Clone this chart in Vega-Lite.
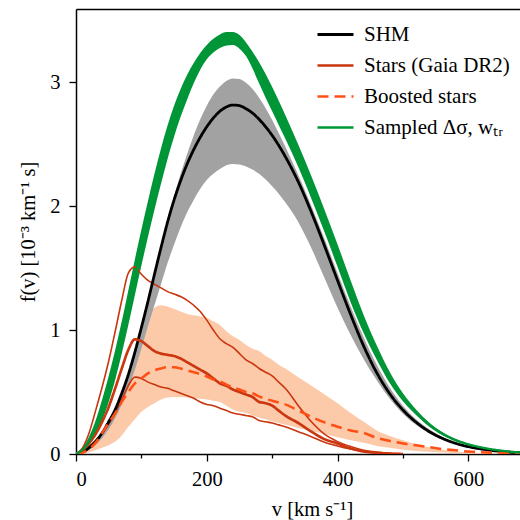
{
  "$schema": "https://vega.github.io/schema/vega-lite/v6.json",
  "width": 444,
  "height": 445,
  "autosize": {"type": "none"},
  "padding": {"left": 76, "top": 9, "right": 0, "bottom": 66},
  "config": {
    "view": {"stroke": null},
    "font": "Liberation Serif",
    "axis": {
      "labelFont": "Liberation Serif", "labelFontSize": 20.5, "labelColor": "black",
      "titleFont": "Liberation Serif", "titleFontSize": 20.5, "titleFontWeight": "normal", "titleColor": "black",
      "domainColor": "black", "domainWidth": 1.5, "tickColor": "black", "tickWidth": 1.3, "tickSize": 7, "grid": false
    },
    "legend": {
      "orient": "none", "legendX": 240, "legendY": 10, "symbolType": "stroke", "symbolSize": 1296,
      "symbolStrokeWidth": 3, "labelFont": "Liberation Serif", "labelFontSize": 21, "labelColor": "black",
      "labelOffset": 9, "clipHeight": 31, "rowPadding": 0, "padding": 0, "labelLimit": 300
    }
  },
  "datasets": {
    "d": [
      {"v": 0, "shm": 0, "shm_lo": 0, "shm_hi": 0, "g_lo": 0, "g_hi": 0, "sampled": 0, "p_lo": 0, "p_hi": 0, "boosted": 0, "stars": 0, "stars_hi": 0, "stars_lo": 0},
      {"v": 10, "shm": 0.015, "shm_lo": 0.01, "shm_hi": 0.015, "g_lo": 0.02, "g_hi": 0.05, "sampled": 0.035, "p_lo": 0.005, "p_hi": 0.02, "boosted": 0.01, "stars": 0.03, "stars_hi": 0.05, "stars_lo": 0.02},
      {"v": 20, "shm": 0.05, "shm_lo": 0.035, "shm_hi": 0.05, "g_lo": 0.07, "g_hi": 0.14, "sampled": 0.105, "p_lo": 0.015, "p_hi": 0.06, "boosted": 0.04, "stars": 0.09, "stars_hi": 0.17, "stars_lo": 0.06},
      {"v": 30, "shm": 0.1, "shm_lo": 0.075, "shm_hi": 0.1, "g_lo": 0.15, "g_hi": 0.27, "sampled": 0.21, "p_lo": 0.03, "p_hi": 0.11, "boosted": 0.09, "stars": 0.16, "stars_hi": 0.35, "stars_lo": 0.11},
      {"v": 40, "shm": 0.17, "shm_lo": 0.13, "shm_hi": 0.17, "g_lo": 0.27, "g_hi": 0.44, "sampled": 0.355, "p_lo": 0.05, "p_hi": 0.17, "boosted": 0.17, "stars": 0.26, "stars_hi": 0.54, "stars_lo": 0.17},
      {"v": 50, "shm": 0.26, "shm_lo": 0.2, "shm_hi": 0.26, "g_lo": 0.42, "g_hi": 0.63, "sampled": 0.525, "p_lo": 0.07, "p_hi": 0.25, "boosted": 0.25, "stars": 0.38, "stars_hi": 0.75, "stars_lo": 0.24},
      {"v": 60, "shm": 0.36, "shm_lo": 0.29, "shm_hi": 0.36, "g_lo": 0.6, "g_hi": 0.84, "sampled": 0.72, "p_lo": 0.1, "p_hi": 0.36, "boosted": 0.33, "stars": 0.53, "stars_hi": 0.99, "stars_lo": 0.33},
      {"v": 70, "shm": 0.49, "shm_lo": 0.4, "shm_hi": 0.49, "g_lo": 0.81, "g_hi": 1.07, "sampled": 0.94, "p_lo": 0.15, "p_hi": 0.48, "boosted": 0.42, "stars": 0.69, "stars_hi": 1.24, "stars_lo": 0.44},
      {"v": 80, "shm": 0.64, "shm_lo": 0.53, "shm_hi": 0.64, "g_lo": 1.04, "g_hi": 1.32, "sampled": 1.18, "p_lo": 0.22, "p_hi": 0.61, "boosted": 0.5, "stars": 0.84, "stars_hi": 1.46, "stars_lo": 0.55},
      {"v": 90, "shm": 0.82, "shm_lo": 0.68, "shm_hi": 0.82, "g_lo": 1.28, "g_hi": 1.57, "sampled": 1.425, "p_lo": 0.28, "p_hi": 0.75, "boosted": 0.57, "stars": 0.925, "stars_hi": 1.51, "stars_lo": 0.62},
      {"v": 100, "shm": 1.02, "shm_lo": 0.85, "shm_hi": 1.03, "g_lo": 1.52, "g_hi": 1.81, "sampled": 1.665, "p_lo": 0.34, "p_hi": 0.95, "boosted": 0.61, "stars": 0.91, "stars_hi": 1.45, "stars_lo": 0.61},
      {"v": 110, "shm": 1.23, "shm_lo": 1.03, "shm_hi": 1.24, "g_lo": 1.75, "g_hi": 2.04, "sampled": 1.895, "p_lo": 0.38, "p_hi": 1.1, "boosted": 0.65, "stars": 0.87, "stars_hi": 1.4, "stars_lo": 0.58},
      {"v": 120, "shm": 1.45, "shm_lo": 1.2, "shm_hi": 1.46, "g_lo": 1.97, "g_hi": 2.26, "sampled": 2.115, "p_lo": 0.41, "p_hi": 1.18, "boosted": 0.675, "stars": 0.83, "stars_hi": 1.37, "stars_lo": 0.56},
      {"v": 130, "shm": 1.665, "shm_lo": 1.37, "shm_hi": 1.68, "g_lo": 2.18, "g_hi": 2.465, "sampled": 2.32, "p_lo": 0.44, "p_hi": 1.2, "boosted": 0.69, "stars": 0.81, "stars_hi": 1.34, "stars_lo": 0.54},
      {"v": 140, "shm": 1.87, "shm_lo": 1.54, "shm_hi": 1.89, "g_lo": 2.38, "g_hi": 2.65, "sampled": 2.515, "p_lo": 0.455, "p_hi": 1.19, "boosted": 0.7, "stars": 0.8, "stars_hi": 1.31, "stars_lo": 0.53},
      {"v": 150, "shm": 2.05, "shm_lo": 1.69, "shm_hi": 2.08, "g_lo": 2.56, "g_hi": 2.81, "sampled": 2.685, "p_lo": 0.46, "p_hi": 1.17, "boosted": 0.7, "stars": 0.79, "stars_hi": 1.29, "stars_lo": 0.51},
      {"v": 160, "shm": 2.205, "shm_lo": 1.83, "shm_hi": 2.26, "g_lo": 2.72, "g_hi": 2.945, "sampled": 2.83, "p_lo": 0.46, "p_hi": 1.15, "boosted": 0.69, "stars": 0.77, "stars_hi": 1.27, "stars_lo": 0.49},
      {"v": 170, "shm": 2.34, "shm_lo": 1.95, "shm_hi": 2.42, "g_lo": 2.86, "g_hi": 3.06, "sampled": 2.96, "p_lo": 0.455, "p_hi": 1.13, "boosted": 0.675, "stars": 0.74, "stars_hi": 1.24, "stars_lo": 0.47},
      {"v": 180, "shm": 2.455, "shm_lo": 2.05, "shm_hi": 2.57, "g_lo": 2.99, "g_hi": 3.155, "sampled": 3.07, "p_lo": 0.45, "p_hi": 1.12, "boosted": 0.66, "stars": 0.71, "stars_hi": 1.2, "stars_lo": 0.45},
      {"v": 190, "shm": 2.555, "shm_lo": 2.14, "shm_hi": 2.7, "g_lo": 3.1, "g_hi": 3.235, "sampled": 3.165, "p_lo": 0.445, "p_hi": 1.11, "boosted": 0.645, "stars": 0.68, "stars_hi": 1.15, "stars_lo": 0.42},
      {"v": 200, "shm": 2.64, "shm_lo": 2.21, "shm_hi": 2.81, "g_lo": 3.185, "g_hi": 3.3, "sampled": 3.24, "p_lo": 0.44, "p_hi": 1.1, "boosted": 0.625, "stars": 0.65, "stars_hi": 1.08, "stars_lo": 0.4},
      {"v": 210, "shm": 2.71, "shm_lo": 2.26, "shm_hi": 2.9, "g_lo": 3.24, "g_hi": 3.35, "sampled": 3.295, "p_lo": 0.43, "p_hi": 1.07, "boosted": 0.6, "stars": 0.61, "stars_hi": 1.0, "stars_lo": 0.39},
      {"v": 220, "shm": 2.765, "shm_lo": 2.3, "shm_hi": 2.965, "g_lo": 3.275, "g_hi": 3.385, "sampled": 3.33, "p_lo": 0.42, "p_hi": 1.04, "boosted": 0.585, "stars": 0.57, "stars_hi": 0.93, "stars_lo": 0.37},
      {"v": 230, "shm": 2.8, "shm_lo": 2.33, "shm_hi": 3.01, "g_lo": 3.295, "g_hi": 3.405, "sampled": 3.35, "p_lo": 0.39, "p_hi": 0.99, "boosted": 0.56, "stars": 0.55, "stars_hi": 0.89, "stars_lo": 0.35},
      {"v": 240, "shm": 2.815, "shm_lo": 2.34, "shm_hi": 3.03, "g_lo": 3.3, "g_hi": 3.405, "sampled": 3.352, "p_lo": 0.36, "p_hi": 0.95, "boosted": 0.535, "stars": 0.52, "stars_hi": 0.86, "stars_lo": 0.33},
      {"v": 250, "shm": 2.81, "shm_lo": 2.335, "shm_hi": 3.025, "g_lo": 3.27, "g_hi": 3.38, "sampled": 3.325, "p_lo": 0.34, "p_hi": 0.92, "boosted": 0.52, "stars": 0.5, "stars_hi": 0.81, "stars_lo": 0.32},
      {"v": 260, "shm": 2.785, "shm_lo": 2.32, "shm_hi": 2.995, "g_lo": 3.21, "g_hi": 3.32, "sampled": 3.265, "p_lo": 0.33, "p_hi": 0.88, "boosted": 0.5, "stars": 0.48, "stars_hi": 0.76, "stars_lo": 0.31},
      {"v": 270, "shm": 2.75, "shm_lo": 2.295, "shm_hi": 2.945, "g_lo": 3.11, "g_hi": 3.245, "sampled": 3.178, "p_lo": 0.31, "p_hi": 0.85, "boosted": 0.49, "stars": 0.46, "stars_hi": 0.73, "stars_lo": 0.3},
      {"v": 280, "shm": 2.7, "shm_lo": 2.26, "shm_hi": 2.875, "g_lo": 2.99, "g_hi": 3.16, "sampled": 3.075, "p_lo": 0.295, "p_hi": 0.83, "boosted": 0.465, "stars": 0.42, "stars_hi": 0.69, "stars_lo": 0.27},
      {"v": 290, "shm": 2.64, "shm_lo": 2.215, "shm_hi": 2.79, "g_lo": 2.875, "g_hi": 3.065, "sampled": 2.97, "p_lo": 0.28, "p_hi": 0.79, "boosted": 0.445, "stars": 0.41, "stars_hi": 0.66, "stars_lo": 0.26},
      {"v": 300, "shm": 2.57, "shm_lo": 2.16, "shm_hi": 2.695, "g_lo": 2.765, "g_hi": 2.96, "sampled": 2.862, "p_lo": 0.265, "p_hi": 0.76, "boosted": 0.43, "stars": 0.39, "stars_hi": 0.63, "stars_lo": 0.25},
      {"v": 310, "shm": 2.49, "shm_lo": 2.1, "shm_hi": 2.59, "g_lo": 2.655, "g_hi": 2.85, "sampled": 2.752, "p_lo": 0.25, "p_hi": 0.72, "boosted": 0.415, "stars": 0.35, "stars_hi": 0.58, "stars_lo": 0.235},
      {"v": 320, "shm": 2.4, "shm_lo": 2.03, "shm_hi": 2.48, "g_lo": 2.545, "g_hi": 2.735, "sampled": 2.64, "p_lo": 0.235, "p_hi": 0.69, "boosted": 0.4, "stars": 0.31, "stars_hi": 0.53, "stars_lo": 0.22},
      {"v": 340, "shm": 2.195, "shm_lo": 1.87, "shm_hi": 2.25, "g_lo": 2.315, "g_hi": 2.495, "sampled": 2.405, "p_lo": 0.21, "p_hi": 0.62, "boosted": 0.35, "stars": 0.25, "stars_hi": 0.39, "stars_lo": 0.18},
      {"v": 360, "shm": 1.95, "shm_lo": 1.66, "shm_hi": 2.0, "g_lo": 2.06, "g_hi": 2.24, "sampled": 2.15, "p_lo": 0.185, "p_hi": 0.55, "boosted": 0.3, "stars": 0.18, "stars_hi": 0.26, "stars_lo": 0.14},
      {"v": 380, "shm": 1.68, "shm_lo": 1.42, "shm_hi": 1.735, "g_lo": 1.79, "g_hi": 1.97, "sampled": 1.88, "p_lo": 0.16, "p_hi": 0.48, "boosted": 0.255, "stars": 0.12, "stars_hi": 0.16, "stars_lo": 0.095},
      {"v": 400, "shm": 1.4, "shm_lo": 1.18, "shm_hi": 1.46, "g_lo": 1.51, "g_hi": 1.69, "sampled": 1.6, "p_lo": 0.135, "p_hi": 0.41, "boosted": 0.22, "stars": 0.085, "stars_hi": 0.1, "stars_lo": 0.065},
      {"v": 420, "shm": 1.125, "shm_lo": 0.96, "shm_hi": 1.19, "g_lo": 1.225, "g_hi": 1.4, "sampled": 1.312, "p_lo": 0.11, "p_hi": 0.33, "boosted": 0.19, "stars": 0.045, "stars_hi": 0.06, "stars_lo": 0.04},
      {"v": 440, "shm": 0.87, "shm_lo": 0.765, "shm_hi": 0.94, "g_lo": 0.975, "g_hi": 1.12, "sampled": 1.048, "p_lo": 0.09, "p_hi": 0.26, "boosted": 0.17, "stars": 0.02, "stars_hi": 0.03, "stars_lo": 0.02},
      {"v": 460, "shm": 0.655, "shm_lo": 0.595, "shm_hi": 0.72, "g_lo": 0.76, "g_hi": 0.875, "sampled": 0.818, "p_lo": 0.065, "p_hi": 0.19, "boosted": 0.13, "stars": 0.01, "stars_hi": 0.015, "stars_lo": 0.008},
      {"v": 480, "shm": 0.485, "shm_lo": 0.445, "shm_hi": 0.535, "g_lo": 0.57, "g_hi": 0.66, "sampled": 0.615, "p_lo": 0.05, "p_hi": 0.145, "boosted": 0.105, "stars": 0.003, "stars_hi": 0.005, "stars_lo": 0.002},
      {"v": 500, "shm": 0.355, "shm_lo": 0.325, "shm_hi": 0.39, "g_lo": 0.425, "g_hi": 0.49, "sampled": 0.458, "p_lo": 0.035, "p_hi": 0.11, "boosted": 0.085, "stars": 0, "stars_hi": 0, "stars_lo": 0},
      {"v": 520, "shm": 0.257, "shm_lo": 0.235, "shm_hi": 0.28, "g_lo": 0.315, "g_hi": 0.36, "sampled": 0.338, "p_lo": 0.025, "p_hi": 0.08, "boosted": 0.07},
      {"v": 540, "shm": 0.182, "shm_lo": 0.165, "shm_hi": 0.2, "g_lo": 0.222, "g_hi": 0.255, "sampled": 0.238, "p_lo": 0.018, "p_hi": 0.055, "boosted": 0.055},
      {"v": 560, "shm": 0.127, "shm_lo": 0.115, "shm_hi": 0.14, "g_lo": 0.153, "g_hi": 0.178, "sampled": 0.165, "p_lo": 0.012, "p_hi": 0.035, "boosted": 0.04},
      {"v": 580, "shm": 0.087, "shm_lo": 0.078, "shm_hi": 0.097, "g_lo": 0.104, "g_hi": 0.123, "sampled": 0.113, "p_lo": 0.008, "p_hi": 0.02, "boosted": 0.03},
      {"v": 600, "shm": 0.059, "shm_lo": 0.052, "shm_hi": 0.066, "g_lo": 0.071, "g_hi": 0.085, "sampled": 0.078, "p_lo": 0.005, "p_hi": 0.012, "boosted": 0.02},
      {"v": 620, "shm": 0.04, "shm_lo": 0.035, "shm_hi": 0.045, "g_lo": 0.048, "g_hi": 0.058, "sampled": 0.053, "p_lo": 0.003, "p_hi": 0.007, "boosted": 0.015},
      {"v": 640, "shm": 0.026, "shm_lo": 0.023, "shm_hi": 0.029, "g_lo": 0.031, "g_hi": 0.038, "sampled": 0.034, "p_lo": 0.002, "p_hi": 0.004, "boosted": 0.01},
      {"v": 660, "shm": 0.016, "shm_lo": 0.014, "shm_hi": 0.018, "g_lo": 0.019, "g_hi": 0.024, "sampled": 0.021, "p_lo": 0.001, "p_hi": 0.002, "boosted": 0.005},
      {"v": 680, "shm": 0.01, "shm_lo": 0.008, "shm_hi": 0.011, "g_lo": 0.011, "g_hi": 0.014, "sampled": 0.012, "p_lo": 0, "p_hi": 0.001, "boosted": 0.003}
    ]
  },
  "data": {"name": "d"},
  "layer": [
    {
      "mark": {"type": "area", "color": "#fdcaa9", "interpolate": "monotone", "clip": true},
      "encoding": {
        "x": {"field": "v", "type": "quantitative", "scale": {"domain": [0, 679], "nice": false, "zero": false},
              "axis": {"orient": "top", "ticks": false, "labels": false, "title": null, "domain": true}},
        "y": {"field": "p_lo", "type": "quantitative", "scale": {"domain": [0, 3.59], "nice": false},
              "axis": {"values": [0, 1, 2, 3], "format": "d", "title": "f(v)  [10⁻³ km⁻¹ s]", "labelPadding": 9, "titlePadding": 11}},
        "y2": {"field": "p_hi"}
      }
    },
    {
      "mark": {"type": "area", "color": "#a2a2a2", "interpolate": "monotone", "clip": true},
      "encoding": {
        "x": {"field": "v", "type": "quantitative", "axis": null},
        "y": {"field": "shm_lo", "type": "quantitative"},
        "y2": {"field": "shm_hi"}
      }
    },
    {
      "mark": {"type": "area", "color": "#009637", "interpolate": "monotone", "clip": true},
      "encoding": {
        "x": {"field": "v", "type": "quantitative", "axis": null},
        "y": {"field": "g_lo", "type": "quantitative"},
        "y2": {"field": "g_hi"}
      }
    },
    {
      "transform": [{"fold": ["stars_hi", "stars_lo"], "as": ["k", "f"]}],
      "mark": {"type": "line", "color": "#c9360f", "strokeWidth": 1.6, "interpolate": "monotone", "clip": true},
      "encoding": {
        "x": {"field": "v", "type": "quantitative",
              "axis": {"orient": "bottom", "values": [100, 300, 500], "labels": false, "domain": false, "tickSize": 4, "title": null}},
        "y": {"field": "f", "type": "quantitative"},
        "detail": {"field": "k"}
      }
    },
    {
      "transform": [{"fold": ["shm", "stars", "boosted", "sampled"], "as": ["series", "f"]}],
      "mark": {"type": "line", "interpolate": "monotone", "clip": true},
      "encoding": {
        "x": {"field": "v", "type": "quantitative",
              "axis": {"orient": "bottom", "values": [0, 200, 400, 600], "title": "v  [km s⁻¹]", "labelPadding": 8, "titlePadding": 10, "titleX": 236}},
        "y": {"field": "f", "type": "quantitative"},
        "color": {"field": "series", "type": "nominal",
                  "scale": {"domain": ["shm", "stars", "boosted", "sampled"], "range": ["#000000", "#c9360f", "#ff4f14", "#009637"]},
                  "legend": {"title": null, "labelExpr": "{'shm': 'SHM', 'stars': 'Stars (Gaia DR2)', 'boosted': 'Boosted stars', 'sampled': 'Sampled Δσ, wₜᵣ'}[datum.label]"}},
        "strokeDash": {"field": "series", "type": "nominal",
                  "scale": {"domain": ["shm", "stars", "boosted", "sampled"], "range": [[1, 0], [1, 0], [11, 6], [1, 0]]},
                  "legend": {"title": null, "labelExpr": "{'shm': 'SHM', 'stars': 'Stars (Gaia DR2)', 'boosted': 'Boosted stars', 'sampled': 'Sampled Δσ, wₜᵣ'}[datum.label]"}},
        "strokeWidth": {"field": "series", "type": "nominal",
                  "scale": {"domain": ["shm", "stars", "boosted", "sampled"], "range": [2.8, 2.4, 3.2, 3]}, "legend": null}
      }
    }
  ],
  "resolve": {"axis": {"x": "independent"}}
}
